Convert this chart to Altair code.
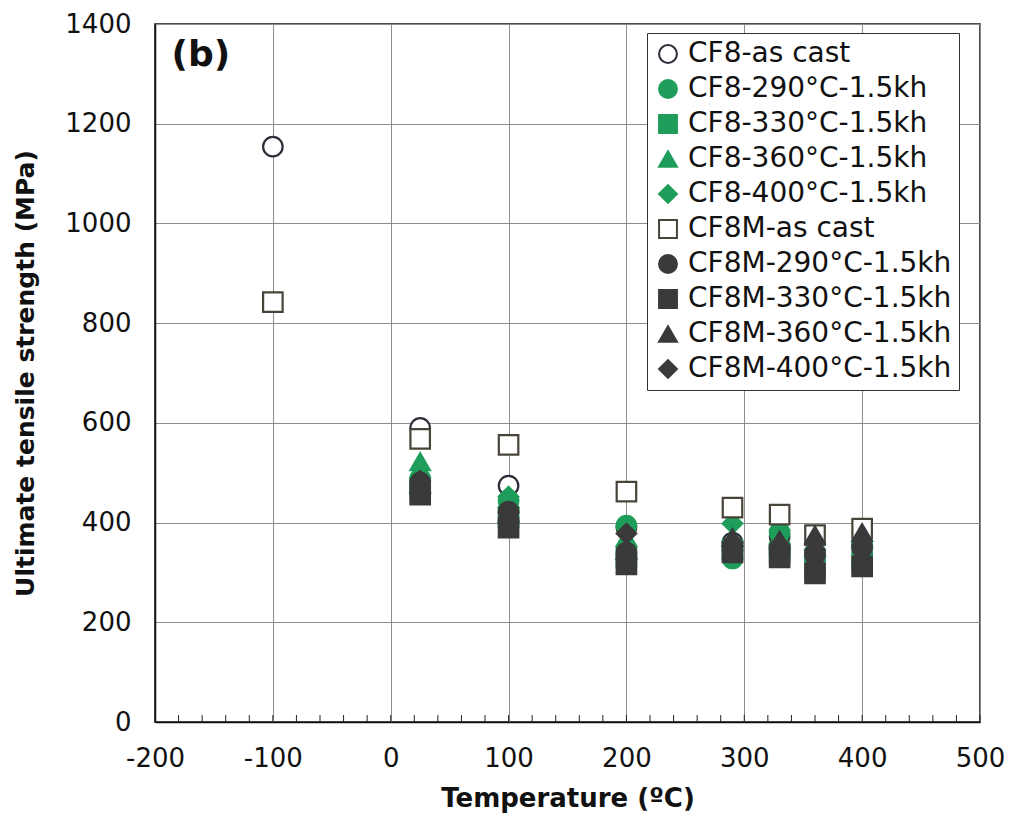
import altair as alt
import pandas as pd

# ---- data ----
temps = [-100, 25, 100, 200, 290, 330, 360, 400]
series_names = [
    "CF8-as cast", "CF8-290°C-1.5kh", "CF8-330°C-1.5kh", "CF8-360°C-1.5kh", "CF8-400°C-1.5kh",
    "CF8M-as cast", "CF8M-290°C-1.5kh", "CF8M-330°C-1.5kh", "CF8M-360°C-1.5kh", "CF8M-400°C-1.5kh",
]
cf8_as_cast   = [1154, 590, 474, 390, 360, 372, 340, 355]
cf8_290       = [None, 488, 444, 394, 328, 380, 340, 358]
cf8_330       = [None, 470, 410, 330, 345, 340, 310, 322]
cf8_360       = [None, 522, 448, 370, 370, 370, 350, 365]
cf8_400       = [None, 490, 452, 392, 398, 385, 345, 355]
cf8m_as_cast  = [842, 568, 556, 462, 430, 416, 375, 388]
cf8m_290      = [None, 480, 422, 340, 345, 340, 335, 350]
cf8m_330      = [None, 456, 390, 316, 340, 330, 298, 312]
cf8m_360      = [None, 478, 420, 345, 370, 365, 375, 380]
cf8m_400      = [None, 484, 420, 378, 360, 355, 345, 352]
all_values = [cf8_as_cast, cf8_290, cf8_330, cf8_360, cf8_400,
              cf8m_as_cast, cf8m_290, cf8m_330, cf8m_360, cf8m_400]

x_ticks = [-200, -100, 0, 100, 200, 300, 400, 500]
y_ticks = [0, 200, 400, 600, 800, 1000, 1200, 1400]
x_minor = list(range(-200, 501, 20))

GREEN = "#1f9d5b"
DARK = "#3a3a3a"
shapes = ["circle", "circle", "square", "triangle-up", "diamond",
          "square", "circle", "square", "triangle-up", "diamond"]
fills = ["white", GREEN, GREEN, GREEN, GREEN, "white", DARK, DARK, DARK, DARK]
strokes = ["#2b2f38", GREEN, GREEN, GREEN, GREEN, "#48443a", DARK, DARK, DARK, DARK]

rows = []
for i, (name, vals) in enumerate(zip(series_names, all_values)):
    for t, v in zip(temps, vals):
        if v is not None:
            rows.append({"series": name, "T": t, "UTS": v, "ord": i})
df = pd.DataFrame(rows)

W, H = 825, 698
FONT = "DejaVu Sans"

xscale = alt.Scale(domain=[-200, 500], nice=False, zero=False)
yscale = alt.Scale(domain=[0, 1400], nice=False, zero=False)

points = alt.Chart(df).mark_point(filled=True, size=380, strokeWidth=2.2, opacity=1).encode(
    x=alt.X("T:Q", scale=xscale,
            axis=alt.Axis(values=x_ticks, title="Temperature (ºC)", grid=True, gridColor="#8c8c8c",
                          gridWidth=1, ticks=False, labelFontSize=26, labelPadding=23,
                          labelExpr="toString(datum.value)",
                          titleFontSize=26, titleFontWeight="bold", titlePadding=14,
                          domainColor="#111", domainWidth=1.5, labelColor="#111", titleColor="#111",
                          labelFlush=False)),
    y=alt.Y("UTS:Q", scale=yscale,
            axis=alt.Axis(values=y_ticks, title="Ultimate tensile strength (MPa)", grid=True,
                          gridColor="#8c8c8c", gridWidth=1, ticks=False, labelFontSize=26,
                          labelExpr="toString(datum.value)",
                          labelPadding=24, titleFontSize=25, titleFontWeight="bold", titlePadding=26,
                          domainColor="#111", domainWidth=1.5, labelColor="#111", titleColor="#111",
                          labelFlush=False)),
    shape=alt.Shape("series:N", scale=alt.Scale(domain=series_names, range=shapes), title=None),
    fill=alt.Fill("series:N", scale=alt.Scale(domain=series_names, range=fills), title=None),
    stroke=alt.Stroke("series:N", scale=alt.Scale(domain=series_names, range=strokes), title=None),
    order=alt.Order("ord:Q"),
)

minor = alt.Chart(pd.DataFrame({"v": x_minor})).mark_rule(color="#222", strokeWidth=1).encode(
    x=alt.X("v:Q", scale=xscale),
    y=alt.value(H),
    y2=alt.value(H - 7),
)

label_b = alt.Chart(pd.DataFrame({"T": [-186], "UTS": [1338], "t": ["(b)"]})).mark_text(
    align="left", baseline="middle", fontSize=36, fontWeight="bold", font=FONT, color="#111"
).encode(x=alt.X("T:Q", scale=xscale), y=alt.Y("UTS:Q", scale=yscale), text="t:N")

chart = alt.layer(minor, points, label_b).properties(
    width=W, height=H,
    autosize=alt.AutoSizeParams(type="none"),
    padding={"left": 147, "top": 16, "right": 25, "bottom": 92},
).configure(font=FONT).configure_view(
    stroke="#111", strokeWidth=1.5
).configure_legend(
    orient="none", legendX=492, legendY=9,
    fillColor="white", strokeColor="#333", padding=7,
    labelFontSize=28, labelColor="#111", labelFont=FONT, symbolSize=320, symbolStrokeWidth=2,
    rowPadding=7, labelOffset=6, labelLimit=400,
)

chart.save("out.html", embed_options={"renderer": "svg", "actions": False})
